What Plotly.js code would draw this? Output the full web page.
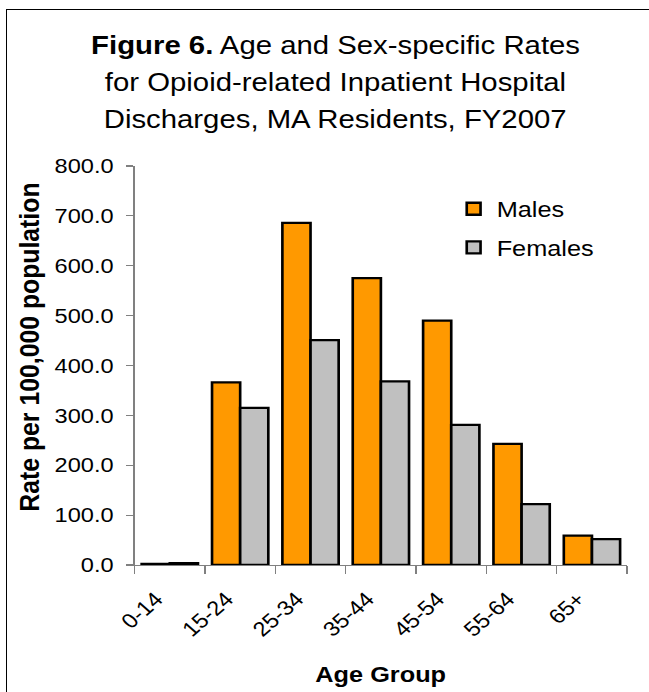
<!DOCTYPE html>
<html>
<head>
<meta charset="utf-8">
<script src="https://cdn.plot.ly/plotly-3.0.1.min.js"></script>
<style>
  html, body { margin: 0; padding: 0; background: #ffffff; overflow: hidden; }
  /* The chart is laid out on a narrower canvas and widened horizontally,
     which gives the wide, stretched lettering of the printed figure. */
  #chart {
    position: absolute;
    left: 0;
    top: 0;
    width: 564px;
    height: 692px;
    transform: scaleX(1.150709);
    transform-origin: 0 0;
  }
  /* frame of the figure; its right and bottom edges lie past the page */
  #frame {
    position: absolute;
    left: 6px;
    top: 9px;
    width: 900px;
    height: 900px;
    border-left: 1.3px solid #000000;
    border-top: 1.3px solid #000000;
    pointer-events: none;
  }
</style>
</head>
<body>
<div id="chart"></div>
<div id="frame"></div>
<script>
// Age groups on the x axis
const ageGroups = ['0-14', '15-24', '25-34', '35-44', '45-54', '55-64', '65+'];

// Rate per 100,000 population, FY2007
const malesRate   = [2.0, 366.0, 686.0, 575.0, 490.0, 243.0, 59.0];
const femalesRate = [3.6, 315.0, 451.0, 368.0, 281.0, 122.0, 52.0];

// Title lines and axis titles
const titleLines = [
  '<b>Figure 6.</b> Age and Sex-specific Rates',
  'for Opioid-related Inpatient Hospital',
  'Discharges, MA Residents, FY2007'
];
const xTitle = 'Age Group';
const yTitle = 'Rate per 100,000 population';

const FONT = '"Liberation Sans", Arial, Helvetica, sans-serif';
const AXIS_GRAY = '#808080';

const traces = [
  {
    type: 'bar',
    name: 'Males',
    legendgroup: 'm',
    x: ageGroups,
    y: malesRate,
    marker: { color: '#FF9900', line: { color: '#000000', width: 2.3 } },
    hoverinfo: 'skip'
  },
  {
    type: 'bar',
    name: 'Females',
    legendgroup: 'f',
    x: ageGroups,
    y: femalesRate,
    marker: { color: '#C0C0C0', line: { color: '#000000', width: 2.3 } },
    hoverinfo: 'skip'
  }
];

const titleY = [1.3045, 1.2100, 1.1181];
const annotations = titleLines.map((t, i) => ({
  text: t,
  xref: 'paper', yref: 'paper',
  x: 0.4068, y: titleY[i],
  xanchor: 'center', yanchor: 'middle',
  showarrow: false,
  font: { family: FONT, size: 25.5, color: '#000000' }
}));

annotations.push({
  text: '<b>' + xTitle + '</b>',
  xref: 'paper', yref: 'paper',
  x: 0.5, y: -0.2734,
  xanchor: 'center', yanchor: 'middle',
  showarrow: false,
  font: { family: FONT, size: 22, color: '#000000' }
});

annotations.push({
  text: '<b>' + yTitle + '</b>',
  xref: 'paper', yref: 'paper',
  x: -0.2145, y: 0.545,
  xanchor: 'center', yanchor: 'middle',
  textangle: -90,
  showarrow: false,
  font: { family: FONT, size: 24.8, color: '#000000' }
});

const layout = {
  width: 564,
  height: 692,
  margin: { l: 117, r: 19, t: 166, b: 127, pad: 0 },
  paper_bgcolor: '#ffffff',
  plot_bgcolor: '#ffffff',
  font: { family: FONT, color: '#000000' },
  barmode: 'group',
  bargap: 0.2,
  bargroupgap: 0,
  showlegend: true,
  legend: {
    x: 0.6416, y: 0.945,
    xanchor: 'left', yanchor: 'top',
    bgcolor: 'rgba(0,0,0,0)',
    borderwidth: 0,
    traceorder: 'grouped',
    tracegroupgap: 7,
    font: { family: FONT, size: 22, color: '#000000' }
  },
  xaxis: {
    type: 'category',
    range: [-0.5, ageGroups.length - 0.5],
    showline: true,
    linecolor: AXIS_GRAY,
    linewidth: 1.2,
    showgrid: false,
    zeroline: false,
    ticks: 'outside',
    tickson: 'boundaries',
    ticklen: 8,
    tickwidth: 1.2,
    tickcolor: AXIS_GRAY,
    tickangle: -45,
    ticklabelshift: -12,
    ticklabelstandoff: 13,
    tickfont: { family: FONT, size: 20.5, color: '#000000' },
    fixedrange: true
  },
  yaxis: {
    range: [0, 800],
    dtick: 100,
    tickformat: '.1f',
    showline: true,
    linecolor: AXIS_GRAY,
    linewidth: 1.2,
    showgrid: false,
    zeroline: false,
    ticks: 'outside',
    ticklen: 6,
    tickwidth: 1.2,
    tickcolor: AXIS_GRAY,
    ticklabelstandoff: 7,
    tickfont: { family: FONT, size: 20.5, color: '#000000' },
    fixedrange: true
  },
  annotations: annotations
};

Plotly.newPlot('chart', traces, layout, { displayModeBar: false, staticPlot: true });
</script>
</body>
</html>
